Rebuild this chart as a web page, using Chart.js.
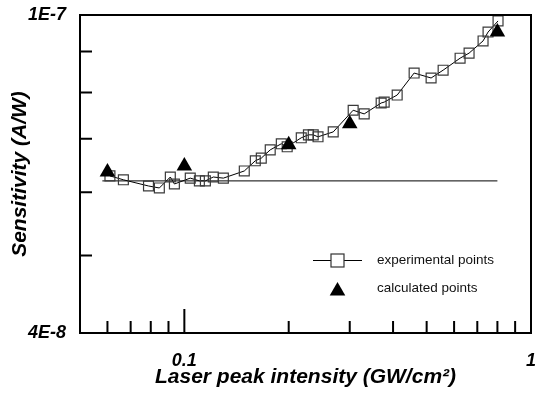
<!DOCTYPE html>
<html>
<head>
<meta charset="utf-8">
<script src="https://cdn.jsdelivr.net/npm/chart.js@4.4.0/dist/chart.umd.min.js"></script>
<style>
  html, body { margin: 0; padding: 0; background: #fff; }
  #grafico { display: block; }
</style>
</head>
<body>
<canvas id="grafico" width="536" height="395"></canvas>
<script>
// experimental points: laser peak intensity (GW/cm²) and sensitivity (A/W)
const expX = [0.061, 0.0667, 0.0788, 0.0847, 0.0911, 0.0936, 0.104, 0.1105, 0.115, 0.1212,
  0.1296, 0.1489, 0.1602, 0.1667, 0.1769, 0.1904, 0.198, 0.2174, 0.228, 0.2354,
  0.243, 0.2688, 0.3069, 0.3302, 0.3696, 0.3771, 0.4111, 0.4601, 0.515, 0.5578,
  0.6244, 0.6628, 0.7273, 0.7518, 0.8034];
const expY = [6.29e-8, 6.22e-8, 6.11e-8, 6.075e-8, 6.27e-8, 6.145e-8, 6.25e-8, 6.2e-8, 6.2e-8, 6.27e-8,
  6.25e-8, 6.38e-8, 6.57e-8, 6.62e-8, 6.78e-8, 6.9e-8, 6.84e-8, 7.02e-8, 7.08e-8, 7.08e-8,
  7.04e-8, 7.14e-8, 7.6e-8, 7.52e-8, 7.76e-8, 7.78e-8, 7.94e-8, 8.46e-8, 8.34e-8, 8.53e-8,
  8.83e-8, 8.96e-8, 9.28e-8, 9.52e-8, 9.83e-8];

// calculated points
const calcX = [0.06, 0.1, 0.2, 0.3, 0.8];
const calcY = [6.36e-8, 6.47e-8, 6.88e-8, 7.31e-8, 9.52e-8];

// horizontal reference line
const refX = [0.058, 0.8];
const refY = [6.2e-8, 6.2e-8];

// ticks
const xTickVals = [0.06, 0.07, 0.08, 0.09, 0.1, 0.2, 0.3, 0.4, 0.5, 0.6, 0.7, 0.8, 0.9, 1];
const xTickLabels = ["", "", "", "", "0.1", "", "", "", "", "", "", "", "", "1"];
const xMajor = [0.1];
const yTickVals = [4e-8, 5e-8, 6e-8, 7e-8, 8e-8, 9e-8, 1e-7];
const yTickLabels = ["4E-8", "", "", "", "", "", "1E-7"];

const fonteEixo = { family: "'Liberation Sans', Arial, sans-serif", size: 18, weight: "bold", style: "italic" };
const fonteTitulo = { family: "'Liberation Sans', Arial, sans-serif", size: 21, weight: "bold", style: "italic" };

const pares = (xs, ys) => xs.map((v, i) => ({ x: v, y: ys[i] }));

// Moldura e marcas dos eixos voltadas para dentro
const moldura = {
  id: "moldura",
  afterDraw(chart) {
    const { ctx, chartArea: a, scales } = chart;
    ctx.save();
    ctx.strokeStyle = "#000";
    ctx.lineWidth = 2;
    ctx.strokeRect(a.left, a.top, a.right - a.left, a.bottom - a.top);
    ctx.beginPath();
    scales.x.ticks.forEach((t) => {
      const px = scales.x.getPixelForValue(t.value);
      const len = xMajor.includes(t.value) ? 24 : 12;
      ctx.moveTo(px, a.bottom);
      ctx.lineTo(px, a.bottom - len);
    });
    scales.y.ticks.forEach((t) => {
      const py = scales.y.getPixelForValue(t.value);
      ctx.moveTo(a.left, py);
      ctx.lineTo(a.left + 12, py);
    });
    ctx.stroke();
    ctx.restore();
  },
};

// Legenda dentro da área do gráfico
const legenda = {
  id: "legenda",
  afterDraw(chart) {
    const { ctx } = chart;
    ctx.save();
    ctx.strokeStyle = "#000";
    ctx.lineWidth = 1;
    ctx.beginPath();
    ctx.moveTo(313, 260.5);
    ctx.lineTo(331, 260.5);
    ctx.moveTo(344, 260.5);
    ctx.lineTo(362, 260.5);
    ctx.stroke();
    ctx.strokeStyle = "#333";
    ctx.lineWidth = 1.2;
    ctx.strokeRect(331, 254, 13, 13);
    ctx.fillStyle = "#000";
    Chart.helpers.drawPoint(ctx, { pointStyle: "triangle", radius: 9, borderWidth: 0 }, 337.5, 291);
    ctx.font = "13.5px 'Liberation Sans', Arial, sans-serif";
    ctx.fillStyle = "#111";
    ctx.textBaseline = "middle";
    ctx.fillText("experimental points", 377, 260);
    ctx.fillText("calculated points", 377, 288);
    ctx.restore();
  },
};

new Chart(document.getElementById("grafico"), {
  type: "line",
  data: {
    datasets: [
      {
        label: "calculated points",
        data: pares(calcX, calcY),
        showLine: false,
        pointStyle: "triangle",
        pointRadius: 9,
        backgroundColor: "#000",
        borderColor: "#000",
        borderWidth: 0,
      },
      {
        label: "experimental points",
        data: pares(expX, expY),
        borderColor: "#000",
        borderWidth: 1,
        tension: 0,
        pointStyle: "rect",
        pointRadius: 7,
        pointBackgroundColor: "rgba(0,0,0,0)",
        pointBorderColor: "#3a3a3a",
        pointBorderWidth: 1.2,
      },
      {
        label: "ref",
        data: pares(refX, refY),
        borderColor: "#000",
        borderWidth: 1,
        pointRadius: 0,
      },
    ],
  },
  options: {
    responsive: false,
    animation: false,
    devicePixelRatio: 1,
    layout: { autoPadding: false, padding: { left: 0, top: 15, right: 5, bottom: 0 } },
    plugins: { legend: { display: false }, tooltip: { enabled: false } },
    scales: {
      x: {
        type: "logarithmic",
        min: 0.05,
        max: 1,
        afterBuildTicks: (s) => { s.ticks = xTickVals.map((v) => ({ value: v })); },
        afterFit: (s) => {
          s.height = 62;
          s.paddingLeft = 0;
          s.paddingRight = 0;
        },
        grid: { display: false, drawTicks: false },
        border: { display: false },
        ticks: {
          autoSkip: false,
          maxRotation: 0,
          padding: 17,
          color: "#000",
          font: fonteEixo,
          callback: (v, i) => xTickLabels[i],
        },
        title: {
          display: true,
          text: "Laser peak intensity (GW/cm²)",
          color: "#000",
          font: fonteTitulo,
          padding: { top: 0, bottom: 5 },
        },
      },
      y: {
        type: "logarithmic",
        min: 4e-8,
        max: 1e-7,
        afterBuildTicks: (s) => { s.ticks = yTickVals.map((v) => ({ value: v })); },
        afterFit: (s) => {
          s.width = 80;
          s.paddingTop = 0;
          s.paddingBottom = 0;
        },
        grid: { display: false, drawTicks: false },
        border: { display: false },
        ticks: {
          autoSkip: false,
          padding: 14,
          color: "#000",
          font: fonteEixo,
          callback: (v, i) => yTickLabels[i],
        },
        title: {
          display: true,
          text: "Sensitivity (A/W)",
          color: "#000",
          font: fonteTitulo,
          padding: { top: 8, bottom: 0 },
        },
      },
    },
  },
  plugins: [moldura, legenda],
});
</script>
</body>
</html>
